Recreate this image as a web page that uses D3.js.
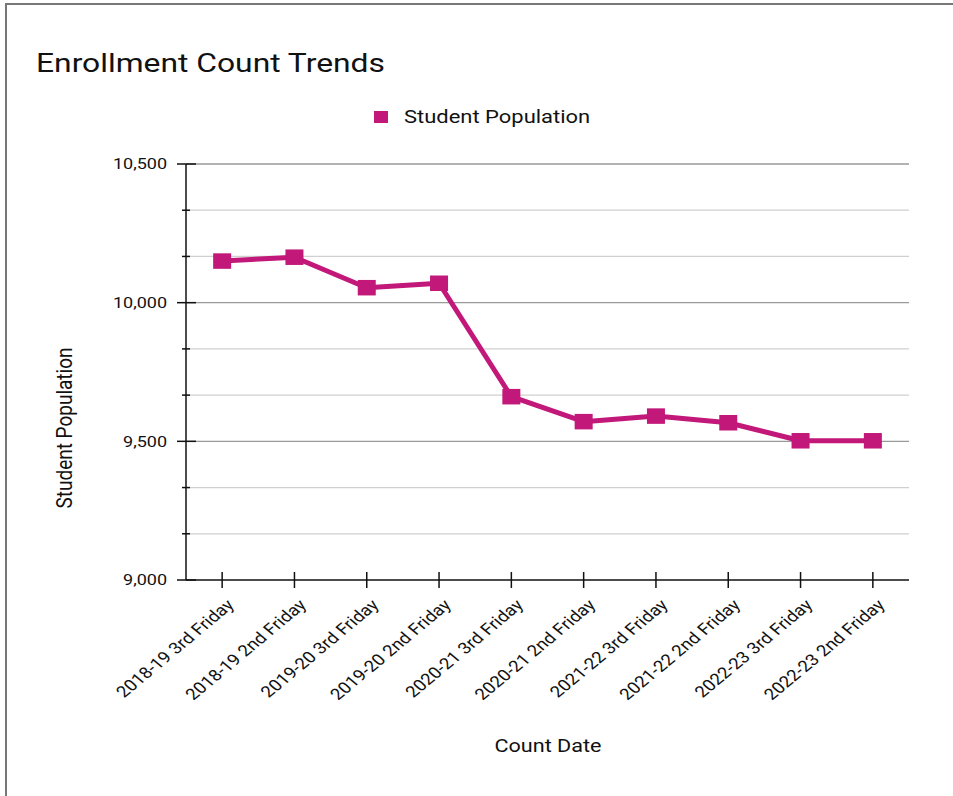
<!DOCTYPE html>
<html>
<head>
<meta charset="utf-8">
<script src="https://cdn.jsdelivr.net/npm/d3@7"></script>
<style>
  body { margin: 0; background: #fff; }
  text { font-family: Roboto, "Noto Sans", sans-serif; fill: #111; }
</style>
</head>
<body>
<svg id="chart"></svg>
<script>
const categories = [
  "2018-19 3rd Friday", "2018-19 2nd Friday",
  "2019-20 3rd Friday", "2019-20 2nd Friday",
  "2020-21 3rd Friday", "2020-21 2nd Friday",
  "2021-22 3rd Friday", "2021-22 2nd Friday",
  "2022-23 3rd Friday", "2022-23 2nd Friday"
];
const population = [10150, 10164, 10054, 10070, 9661, 9571, 9591, 9567, 9502, 9502];
const yTicks = [9000, 9500, 10000, 10500];

const width = 953;
const height = 796;
const color = '#c2187a';
// the picture is stretched sideways, so text gets a horizontal scale
const sx = 1.2;

const svg = d3.select('#chart')
    .attr('width', width)
    .attr('height', height)

// frame
svg.append('rect')
  .attr('x', 6).attr('y', 4)
  .attr('width', width + 20).attr('height', height + 20)
  .attr('fill', 'none')
  .attr('stroke', '#777')
  .attr('stroke-width', 2);

svg.append('text')
  .attr('transform', 'translate(36,72) scale(' + sx + ',1)')
  .style('font-size', '26.5px')
  .text('Enrollment Count Trends');

// legend
const legend = svg.append('g').attr('transform', 'translate(374,111)');
legend.append('rect')
  .attr('width', 14).attr('height', 12)
  .attr('fill', color);
legend.append('text')
  .attr('transform', 'translate(30,12) scale(' + sx + ',1)')
  .style('font-size', '18.3px')
  .text('Student Population');

const x = d3.scalePoint()
  .domain(categories)
  .range([186, 909])
  .padding(0.5);

const y = d3.scaleLinear()
  .domain([9000, 10500])
  .range([580, 164]);

const gridValues = d3.range(0, 10).map(i => 9000 + i * 1500 / 9);

// gridlines
svg.append('g')
  .selectAll('line')
  .data(gridValues.slice(1))
  .enter().append('line')
    .attr('x1', 186).attr('x2', 909)
    .attr('y1', d => y(d)).attr('y2', d => y(d))
    .attr('stroke', (d, i) => (i + 1) % 3 === 0 ? '#999' : '#d0d0d0')
    .attr('stroke-width', 1.3);

// y axis
const gy = svg.append('g');
gy.append('line')
  .attr('x1', 186).attr('x2', 186)
  .attr('y1', 164).attr('y2', 580)
  .attr('stroke', '#111').attr('stroke-width', 1.5);
gy.selectAll('.tick')
  .data(gridValues)
  .enter().append('line')
    .attr('x1', (d, i) => i % 3 === 0 ? 177 : 182)
    .attr('x2', (d, i) => i % 3 === 0 ? 196 : 190)
    .attr('y1', d => y(d)).attr('y2', d => y(d))
    .attr('stroke', '#111').attr('stroke-width', 1.5);
gy.selectAll('.lbl')
  .data(yTicks)
  .enter().append('text')
    .attr('transform', d => 'translate(167,' + y(d) + ') scale(' + sx + ',1)')
    .attr('dy', '0.35em')
    .style('text-anchor', 'end')
    .style('font-size', '15px')
    .text(d3.format(','));

// x axis
const gx = svg.append('g');
gx.append('line')
  .attr('x1', 186).attr('x2', 909)
  .attr('y1', 580).attr('y2', 580)
  .attr('stroke', '#111').attr('stroke-width', 1.5);
gx.selectAll('.tick')
  .data(categories)
  .enter().append('line')
    .attr('x1', d => x(d)).attr('x2', d => x(d))
    .attr('y1', 572).attr('y2', 588)
    .attr('stroke', '#111').attr('stroke-width', 1.5);
gx.selectAll('.lbl')
  .data(categories)
  .enter().append('text')
    .attr('transform', d => 'translate(' + (x(d) + 13) + ',606) scale(' + sx + ',1) rotate(-45)')
    .style('text-anchor', 'end')
    .style('font-size', '15.8px')
    .text(d => d);

svg.append('text')
  .attr('transform', 'translate(548,752) scale(' + sx + ',1)')
  .style('text-anchor', 'middle')
  .style('font-size', '18px')
  .text('Count Date');

svg.append('text')
  .attr('transform', 'translate(72,428) scale(' + sx + ',1) rotate(-90)')
  .style('text-anchor', 'middle')
  .style('font-size', '19px')
  .text('Student Population');

// series
const line = d3.line()
  .x((d, i) => x(categories[i]))
  .y(d => y(d));

svg.append('path')
  .datum(population)
  .attr('d', line)
  .attr('fill', 'none')
  .attr('stroke', color)
  .attr('stroke-width', 5)
  .attr('stroke-linejoin', 'round');

svg.selectAll('.pt')
  .data(population)
  .enter().append('rect')
    .attr('x', (d, i) => x(categories[i]) - 9)
    .attr('y', d => y(d) - 7.75)
    .attr('width', 18).attr('height', 15.5)
    .attr('fill', color);
</script>
</body>
</html>
